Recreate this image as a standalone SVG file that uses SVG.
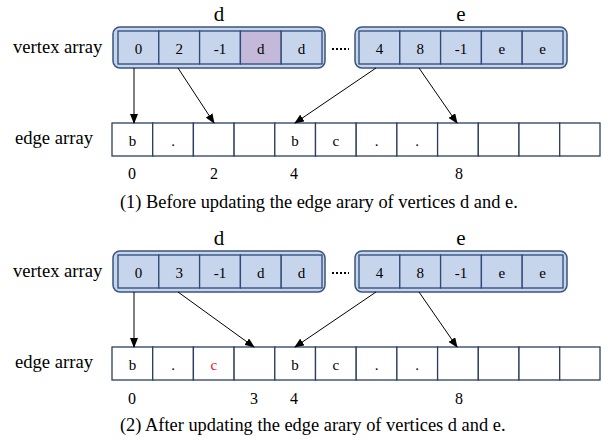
<svg xmlns="http://www.w3.org/2000/svg" width="606" height="441" viewBox="0 0 606 441" font-family="'Liberation Serif', 'Times New Roman', serif">
<defs>
<marker id="ah" markerWidth="10" markerHeight="8" refX="9" refY="4" orient="auto" markerUnits="userSpaceOnUse">
<path d="M0,0 L10,4 L0,8 Z" fill="#000"/>
</marker>
<style>
.lbl{font-size:18.6px}
.hd{font-size:21px;text-anchor:middle}
.ct{font-size:15px;text-anchor:middle}
.ix{font-size:16px;text-anchor:middle}
.cap{font-size:18.4px}
.red{fill:#e8141c}
.outer{fill:#c6d4ec;stroke:#3a5580;stroke-width:1.5}
.vc{fill:#c6d4ec;stroke:#2e4a78;stroke-width:1.3}
.pc{fill:#c4b9d9;stroke:#2e4a78;stroke-width:1.3}
.ec{fill:#fff;stroke:#2c3e5e;stroke-width:1.3}
.con{stroke:#000;stroke-width:1;fill:none;marker-end:url(#ah)}
.dots{stroke:#000;stroke-width:2;stroke-dasharray:2,2}
</style>
</defs>

<!-- ===== Part 1 ===== -->
<g id="labels1">
<text class="lbl" x="13" y="53">vertex array</text>
<text class="lbl" x="15" y="144">edge array</text>
</g>
<g id="vd1">
<text class="hd" x="219" y="21">d</text>
<rect class="outer" x="113" y="27" width="212" height="41" rx="7"/>
<rect class="vc" x="118" y="31" width="40.8" height="33"/>
<rect class="vc" x="158.8" y="31" width="40.8" height="33"/>
<rect class="vc" x="199.6" y="31" width="40.8" height="33"/>
<rect class="pc" x="240.4" y="31" width="40.8" height="33"/>
<rect class="vc" x="281.2" y="31" width="40.8" height="33"/>
<text class="ct" x="138.4" y="54">0</text>
<text class="ct" x="179.2" y="54">2</text>
<text class="ct" x="220" y="54">-1</text>
<text class="ct" x="260.8" y="54">d</text>
<text class="ct" x="301.6" y="54">d</text>
</g>
<line class="dots" x1="332" y1="49" x2="349" y2="49"/>
<g id="ve1">
<text class="hd" x="461" y="21">e</text>
<rect class="outer" x="355" y="27" width="212" height="41" rx="7"/>
<rect class="vc" x="359" y="31" width="40.8" height="33"/>
<rect class="vc" x="399.8" y="31" width="40.8" height="33"/>
<rect class="vc" x="440.6" y="31" width="40.8" height="33"/>
<rect class="vc" x="481.4" y="31" width="40.8" height="33"/>
<rect class="vc" x="522.2" y="31" width="40.8" height="33"/>
<text class="ct" x="379.4" y="54">4</text>
<text class="ct" x="420.2" y="54">8</text>
<text class="ct" x="461" y="54">-1</text>
<text class="ct" x="501.8" y="54">e</text>
<text class="ct" x="542.6" y="54">e</text>
</g>
<g id="ea1">
<rect class="ec" x="112" y="123" width="40.7" height="33"/>
<rect class="ec" x="152.7" y="123" width="40.7" height="33"/>
<rect class="ec" x="193.4" y="123" width="40.7" height="33"/>
<rect class="ec" x="234.1" y="123" width="40.7" height="33"/>
<rect class="ec" x="274.8" y="123" width="40.7" height="33"/>
<rect class="ec" x="315.5" y="123" width="40.7" height="33"/>
<rect class="ec" x="356.2" y="123" width="40.7" height="33"/>
<rect class="ec" x="396.9" y="123" width="40.7" height="33"/>
<rect class="ec" x="437.6" y="123" width="40.7" height="33"/>
<rect class="ec" x="478.3" y="123" width="40.7" height="33"/>
<rect class="ec" x="519" y="123" width="40.7" height="33"/>
<rect class="ec" x="559.7" y="123" width="40.3" height="33"/>
<text class="ct" x="132.4" y="146">b</text>
<text class="ct" x="173" y="146">.</text>
<text class="ct" x="295" y="146">b</text>
<text class="ct" x="335.8" y="146">c</text>
<text class="ct" x="376.6" y="146">.</text>
<text class="ct" x="417.2" y="146">.</text>
</g>
<g id="idx1">
<text class="ix" x="132" y="179">0</text>
<text class="ix" x="214" y="179">2</text>
<text class="ix" x="294" y="179">4</text>
<text class="ix" x="459" y="179">8</text>
<text class="cap" x="120" y="208">(1) Before updating the edge arary of vertices d and e.</text>
</g>

<!-- ===== Part 2 ===== -->
<g id="labels2">
<text class="lbl" x="13" y="277">vertex array</text>
<text class="lbl" x="15" y="368">edge array</text>
</g>
<g id="vd2">
<text class="hd" x="219" y="245">d</text>
<rect class="outer" x="113" y="251" width="212" height="41" rx="7"/>
<rect class="vc" x="118" y="255" width="40.8" height="33"/>
<rect class="vc" x="158.8" y="255" width="40.8" height="33"/>
<rect class="vc" x="199.6" y="255" width="40.8" height="33"/>
<rect class="vc" x="240.4" y="255" width="40.8" height="33"/>
<rect class="vc" x="281.2" y="255" width="40.8" height="33"/>
<text class="ct" x="138.4" y="278">0</text>
<text class="ct" x="179.2" y="278">3</text>
<text class="ct" x="220" y="278">-1</text>
<text class="ct" x="260.8" y="278">d</text>
<text class="ct" x="301.6" y="278">d</text>
</g>
<line class="dots" x1="332" y1="273" x2="349" y2="273"/>
<g id="ve2">
<text class="hd" x="461" y="245">e</text>
<rect class="outer" x="355" y="251" width="212" height="41" rx="7"/>
<rect class="vc" x="359" y="255" width="40.8" height="33"/>
<rect class="vc" x="399.8" y="255" width="40.8" height="33"/>
<rect class="vc" x="440.6" y="255" width="40.8" height="33"/>
<rect class="vc" x="481.4" y="255" width="40.8" height="33"/>
<rect class="vc" x="522.2" y="255" width="40.8" height="33"/>
<text class="ct" x="379.4" y="278">4</text>
<text class="ct" x="420.2" y="278">8</text>
<text class="ct" x="461" y="278">-1</text>
<text class="ct" x="501.8" y="278">e</text>
<text class="ct" x="542.6" y="278">e</text>
</g>
<g id="ea2">
<rect class="ec" x="112" y="347" width="40.7" height="33"/>
<rect class="ec" x="152.7" y="347" width="40.7" height="33"/>
<rect class="ec" x="193.4" y="347" width="40.7" height="33"/>
<rect class="ec" x="234.1" y="347" width="40.7" height="33"/>
<rect class="ec" x="274.8" y="347" width="40.7" height="33"/>
<rect class="ec" x="315.5" y="347" width="40.7" height="33"/>
<rect class="ec" x="356.2" y="347" width="40.7" height="33"/>
<rect class="ec" x="396.9" y="347" width="40.7" height="33"/>
<rect class="ec" x="437.6" y="347" width="40.7" height="33"/>
<rect class="ec" x="478.3" y="347" width="40.7" height="33"/>
<rect class="ec" x="519" y="347" width="40.7" height="33"/>
<rect class="ec" x="559.7" y="347" width="40.3" height="33"/>
<text class="ct" x="132.4" y="370">b</text>
<text class="ct" x="173" y="370">.</text>
<text class="ct red" x="213.8" y="370">c</text>
<text class="ct" x="295" y="370">b</text>
<text class="ct" x="335.8" y="370">c</text>
<text class="ct" x="376.6" y="370">.</text>
<text class="ct" x="417.2" y="370">.</text>
</g>
<g id="idx2">
<text class="ix" x="132" y="404">0</text>
<text class="ix" x="254" y="404">3</text>
<text class="ix" x="294" y="404">4</text>
<text class="ix" x="459" y="404">8</text>
<text class="cap" x="120" y="431">(2) After updating the edge arary of vertices d and e.</text>
</g>

<g id="connectors">
<line class="con" x1="134" y1="68" x2="134" y2="123"/>
<line class="con" x1="178" y1="68" x2="214" y2="123"/>
<line class="con" x1="376" y1="68" x2="295" y2="123"/>
<line class="con" x1="419" y1="68" x2="457" y2="123"/>
<line class="con" x1="134" y1="292" x2="134" y2="347"/>
<line class="con" x1="178" y1="292" x2="254" y2="347"/>
<line class="con" x1="376" y1="292" x2="295" y2="347"/>
<line class="con" x1="419" y1="292" x2="457" y2="347"/>
</g>
</svg>
